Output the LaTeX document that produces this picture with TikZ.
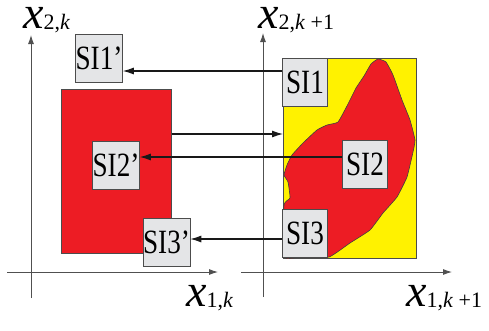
\documentclass[tikz,border=0pt]{standalone}
\usepackage{fontspec}
\usepackage{graphicx}
\setmainfont{Liberation Serif}
\usetikzlibrary{arrows.meta}
\definecolor{rred}{HTML}{ED1C24}
\definecolor{yyel}{HTML}{FFF200}
\definecolor{boxg}{HTML}{E4E5E7}
\definecolor{axg}{HTML}{505050}
\newcommand{\bigx}{{\fontsize{46}{46}\selectfont\itshape x}}
\newcommand{\subt}[1]{\raisebox{-1pt}{\fontsize{22}{22}\selectfont #1}}
\newcommand{\silab}[1]{\scalebox{0.8}[1]{#1}}
\begin{document}
\begin{tikzpicture}[x=1pt,y=-1pt,
  sibox/.style={draw=black!70, fill=boxg, line width=0.8pt, inner sep=0pt,
    minimum width=45pt, minimum height=48pt, font=\fontsize{34}{34}\selectfont},
  axisline/.style={draw=axg, line width=0.9pt},
  axisarr/.style={axisline, -{Latex[length=9pt,width=6pt]}},
  conn/.style={draw=black!90, line width=1.1pt, -{Latex[length=11pt,width=7pt]}},
  areabox/.style={draw=black!70, line width=0.7pt, inner sep=0pt, anchor=north west},
  axlab/.style={inner sep=0pt, anchor=base west}
]
\useasboundingbox (0,0) rectangle (489,330);
% left axes
\coordinate (lxs) at (7,272);
\coordinate (lxe) at (218,272);
\coordinate (lys) at (31,298);
\coordinate (lye) at (31,35);
\draw[axisarr] (lxs) -- (lxe);
\draw[axisarr] (lys) -- (lye);
% right axes
\coordinate (rxs) at (241,272);
\coordinate (rxe) at (452,272);
\coordinate (rys) at (263,297);
\coordinate (rye) at (263,33);
\draw[axisarr] (rxs) -- (rxe);
\draw[axisarr] (rys) -- (rye);
% axis labels
\node[axlab] (l2k) at (23,28) {\bigx\subt{2,\textit{k}}};
\node[axlab] (r2k) at (258,28) {\bigx\subt{2,\textit{k} +1}};
\node[axlab] (l1k) at (186,306) {\bigx\subt{1,\textit{k}}};
\node[axlab] (r1k) at (406,306) {\bigx\subt{1,\textit{k} +1}};
% regions
\node[areabox, fill=rred, minimum width=110pt, minimum height=164pt] (lrect) at (61,89) {};
\node[areabox, fill=yyel, minimum width=133pt, minimum height=200pt] (yrect) at (283,58) {};
\fill[rred, draw=black!75, line width=0.6pt] plot[smooth cycle, tension=0.25] coordinates {
 (378,59) (386,62) (393,75) (402,100) (410,120) (415,140) (413,152) (407,177)
 (397,197) (383,213) (370,230) (350,243) (329,257) (300,257) (284,257) (284,205)
 (290,198) (288,182) (284,175) (287,165) (292,155) (303,143) (317,130) (327,125)
 (338,122) (348,104) (356,88) (364,76) (371,64)};
% boxes
\node[sibox] (s1p) at (99,58) {\silab{SI1’}};
\node[sibox] (s2p) at (116,165) {\silab{SI2’}};
\node[sibox] (s3p) at (166.5,242.5) {\silab{SI3’}};
\node[sibox] (s1) at (305,82.5) {\silab{SI1}};
\node[sibox] (s2) at (365,164.5) {\silab{SI2}};
\node[sibox] (s3) at (305,233.5) {\silab{SI3}};
% connectors
\draw[conn] (s1.west |- 0,71) -- (s1p.east |- 0,71);
\draw[conn] (lrect.east |- 0,134) -- (yrect.west |- 0,134);
\draw[conn] (s2.west |- 0,157) -- (s2p.east |- 0,157);
\draw[conn] (s3.west |- 0,239) -- (s3p.east |- 0,239);
\end{tikzpicture}
\end{document}
